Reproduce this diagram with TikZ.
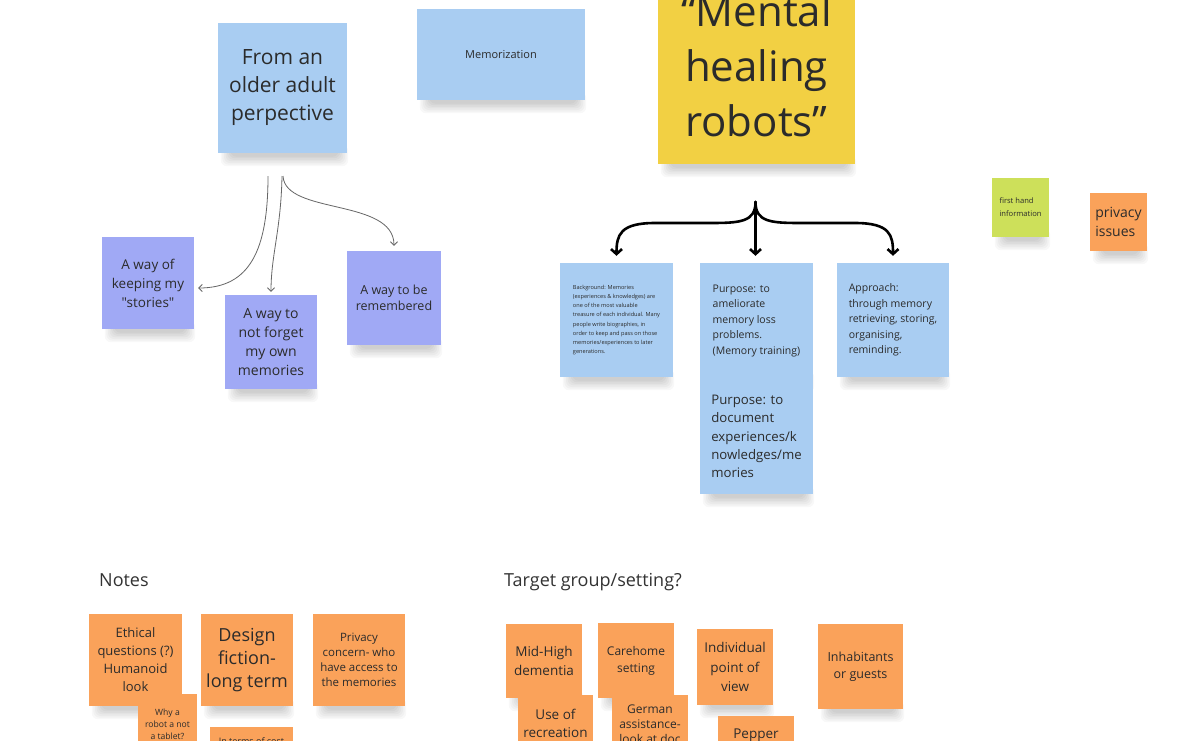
\documentclass[tikz,border=0pt]{standalone}
\usepackage{fontspec}
\setmainfont{Open Sans}[Ligatures=TeXOff]
\usetikzlibrary{arrows.meta,backgrounds,calc}
\pgfdeclarelayer{bottom}
\pgfsetlayers{bottom,background,main}
\definecolor{nblue}{HTML}{A9CDF2}
\definecolor{npurple}{HTML}{A0A9F5}
\definecolor{nyellow}{HTML}{F2D043}
\definecolor{norange}{HTML}{FAA25A}
\definecolor{ngreen}{HTML}{CDE05A}
\definecolor{ink}{HTML}{2B2B2B}
\definecolor{lbl}{HTML}{333333}
\newcommand\nfs[2]{\fontsize{#1}{#2}\selectfont}
\begin{document}
\begin{tikzpicture}[x=1pt,y=-1pt,
  note/.style={inner sep=0pt, text=ink, align=center},
  thinarrow/.style={draw=gray!80!black, line width=0.8pt, -{Straight Barb[length=3.5pt,width=7pt]}},
  bracearrow/.style={draw=black, line width=2.6pt, line cap=round, -{Straight Barb[length=5pt,width=11pt]}},
  heading/.style={anchor=base west, text=lbl, font=\nfs{18}{22}, inner sep=0pt}]
\useasboundingbox (0,0) rectangle (1200,740);
\begin{pgfonlayer}{bottom}
\fill[white] (0,0) rectangle (1200,740);
\end{pgfonlayer}
\clip (0,0) rectangle (1200,740);

% top notes
\node[note, fill=nblue, minimum width=129, minimum height=130, font=\nfs{21}{28}] (older) at (282.5,88) {From an\\older adult\\perpective};
\node[note, fill=nblue, minimum width=168, minimum height=91, font=\nfs{11}{14}] (memo) at (501,54.5) {Memorization};
\node[note, fill=nyellow, minimum width=197, minimum height=197, font=\nfs{42}{55}] (mental) at (756.5,65.5) {“Mental\\healing\\robots”};
\node[note, fill=ngreen, minimum width=57, minimum height=59, font=\nfs{7.6}{13}, align=left] (first) at (1020.5,207.5) {first hand\\information};
\node[note, fill=norange, minimum width=57, minimum height=58, font=\nfs{14}{19}, align=left] (privacy) at (1118.5,222) {privacy\\issues};

% older adult branch
\node[note, fill=npurple, minimum width=92, minimum height=92, font=\nfs{13.5}{19}] (keeping) at (148,283) {A way of\\keeping my\\"stories"};
\node[note, fill=npurple, minimum width=92, minimum height=94, font=\nfs{14}{19}] (forget) at (271,342) {A way to\\not forget\\my own\\memories};
\node[note, fill=npurple, minimum width=94, minimum height=94, font=\nfs{12.5}{15.5}] (remembered) at (394,298) {A way to be\\remembered};

% mental healing branch
\node[note, fill=nblue, minimum width=113, minimum height=114, font=\nfs{5.6}{9.1}, align=left] (background) at (616.5,320) {Background: Memories\\(experiences \& knowledges) are\\one of the most valuable\\treasure of each individual. Many\\people write biographies, in\\order to keep and pass on those\\memories/experiences to later\\generations.};
\node[note, fill=nblue, minimum width=113, minimum height=116, font=\nfs{10.5}{15.5}, align=left] (purpose1) at (756.5,321) {Purpose: to\\ameliorate\\memory loss\\problems.\\(Memory training)};
\node[note, fill=nblue, minimum width=112, minimum height=114, font=\nfs{10.5}{15.5}, align=left] (approach) at (893,320) {Approach:\\through memory\\retrieving, storing,\\organising,\\reminding.};
\node[note, fill=nblue, minimum width=113, minimum height=115, font=\nfs{13.2}{18.3}, align=left] (purpose2) at (756.5,436.5) {Purpose: to\\document\\experiences/k\\nowledges/me\\mories};

% headings
\node[heading] (notes) at (99,586) {Notes};
\node[heading] (target) at (504,586) {Target group/setting?};

% notes group
\node[note, fill=norange, minimum width=93, minimum height=92, font=\nfs{13}{18}] (ethical) at (135.5,660) {Ethical\\questions (?)\\Humanoid\\look};
\node[note, fill=norange, minimum width=92, minimum height=92, font=\nfs{18}{23}] (design) at (247,660) {Design\\fiction-\\long term};
\node[note, fill=norange, minimum width=92, minimum height=92, font=\nfs{11.5}{15}] (concern) at (359,660) {Privacy\\concern- who\\have access to\\the memories};
\node[note, fill=norange, minimum width=59, minimum height=60, font=\nfs{8.6}{12}] (why) at (167.5,724) {Why a\\robot a not\\a tablet?};
\node[note, fill=norange, minimum width=83, minimum height=28, font=\nfs{9}{12}] (cost) at (251.5,741) {In terms of cost};

% target group
\node[note, fill=norange, minimum width=76, minimum height=74, font=\nfs{13.5}{18.5}] (midhigh) at (544,661) {Mid-High\\dementia};
\node[note, fill=norange, minimum width=76, minimum height=75, font=\nfs{12}{17}] (carehome) at (636,660.5) {Carehome\\setting};
\node[note, fill=norange, minimum width=75, minimum height=56, font=\nfs{13.5}{18}] (recreation) at (555.5,723) {Use of\\recreation};
\node[note, fill=norange, minimum width=76, minimum height=58, font=\nfs{12}{15}] (german) at (650,724) {German\\assistance-\\look at doc};
\node[note, fill=norange, minimum width=76, minimum height=76, font=\nfs{13.5}{19.5}] (individual) at (735,667) {Individual\\point of\\view};
\node[note, fill=norange, minimum width=76, minimum height=38, font=\nfs{13.5}{18}] (pepper) at (756,735) {Pepper};
\node[note, fill=norange, minimum width=85, minimum height=85, font=\nfs{12.5}{17}] (inhabitants) at (860.5,666.5) {Inhabitants\\or guests};

% soft shadows
\begin{scope}[on background layer]
\foreach \n in {older,memo,mental,first,privacy,keeping,forget,remembered,background,purpose1,approach,purpose2,ethical,design,concern,why,midhigh,carehome,recreation,german,individual,pepper,inhabitants}{
  \foreach \i in {0,...,6}{
    \fill[black,opacity=.028,rounded corners=6] ($(\n.south west)+(3+1.6*\i,-8)$) rectangle ($(\n.south east)+(1-1.6*\i,13-1.6*\i)$);
  }
}
\end{scope}

% connectors
\coordinate (o1) at (268,176);
\coordinate (o2) at (282,176);
\coordinate (o3) at (283,176);
\coordinate (b) at (755.5,202);
\draw[thinarrow, shorten >=4pt] (o1) .. controls (268,250) and (250,288) .. ($(keeping.east)+(0,5)$);
\draw[thinarrow, shorten >=3pt] (o2) .. controls (281,230) and (271,255) .. (forget.north);
\draw[thinarrow, shorten >=5pt] (o3) .. controls (285,215) and (394,198) .. (remembered.north);

\draw[bracearrow, shorten >=7pt] (b) .. controls (755.5,222) and (740,223) .. (710,223) -- (655,223) .. controls (620,223) and (616.5,235) .. (background.north);
\draw[bracearrow, shorten >=7pt] (b) -- (purpose1.north -| b);
\draw[bracearrow, shorten >=7pt] (b) .. controls (755.5,222) and (771,223) .. (801,223) -- (855,223) .. controls (890,223) and (893,235) .. (approach.north);
\end{tikzpicture}
\end{document}
